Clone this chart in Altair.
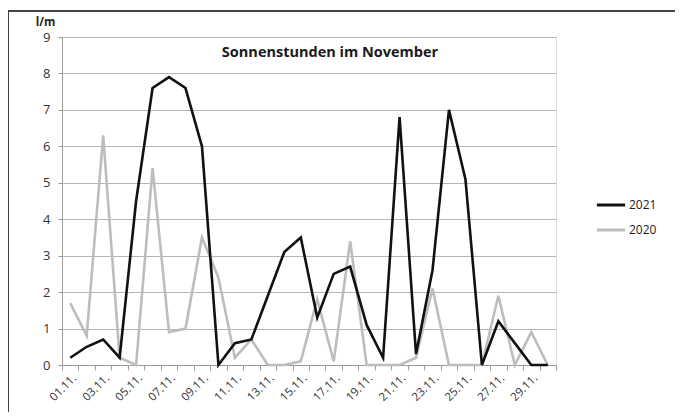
import altair as alt
import pandas as pd

days = list(range(1, 31))
sun_2021 = [0.2, 0.5, 0.7, 0.2, 4.5, 7.6, 7.9, 7.6, 6.0, 0.0,
            0.6, 0.7, 1.9, 3.1, 3.5, 1.3, 2.5, 2.7, 1.1, 0.2,
            6.8, 0.3, 2.6, 7.0, 5.1, 0.0, 1.2, 0.6, 0.0, 0.0]
sun_2020 = [1.7, 0.8, 6.3, 0.2, 0.0, 5.4, 0.9, 1.0, 3.5, 2.4,
            0.2, 0.7, 0.0, 0.0, 0.1, 1.8, 0.1, 3.4, 0.0, 0.0,
            0.0, 0.2, 2.1, 0.0, 0.0, 0.0, 1.9, 0.0, 0.9, 0.0]
series = ["2021", "2020"]
colors = ["#111111", "#bdbdbd"]
y_ticks = list(range(0, 10))
title_text = "Sonnenstunden im November"
y_unit = "l/m"

rows = []
for d, a, b in zip(days, sun_2021, sun_2020):
    rows.append({"Tag": d, "Jahr": "2021", "Stunden": a})
    rows.append({"Tag": d, "Jahr": "2020", "Stunden": b})
df = pd.DataFrame(rows)

FONT = "Open Sans"
W, H = 494, 328
step = W / 30.0

boundaries = [i + 0.5 for i in range(0, 31)]
label_expr = ("datum.value < 30 && (datum.value + 0.5) % 2 == 1 ? "
              "((datum.value + 0.5) < 10 ? '0' : '') + (datum.value + 0.5) + '.11.' : ''")

x = alt.X("Tag:Q",
          scale=alt.Scale(domain=[0.5, 30.5], nice=False, zero=False),
          axis=alt.Axis(values=boundaries, labelExpr=label_expr, labelOffset=step / 2,
                        labelAngle=-45, labelAlign="right", labelBaseline="top",
                        labelOverlap=False, labelFont=FONT, labelFontSize=11.5,
                        labelColor="#333333", labelPadding=2,
                        tickSize=5, tickColor="#9a9a9a", domainColor="#9a9a9a",
                        grid=False, title=None))
y = alt.Y("Stunden:Q",
          scale=alt.Scale(domain=[0, 9], nice=False),
          axis=alt.Axis(values=y_ticks, grid=True, gridColor="#b5b5b5", gridWidth=1.2,
                        tickSize=4, tickColor="#9a9a9a", domainColor="#9a9a9a",
                        labelFont=FONT, labelFontSize=13, labelColor="#333333",
                        labelPadding=8,
                        title=y_unit, titleAngle=0, titleX=-17, titleY=-15,
                        titleFont=FONT, titleFontSize=11.5, titleFontWeight="bold",
                        titleColor="#222222", titleAlign="center", titleBaseline="middle"))
color = alt.Color("Jahr:N",
                  scale=alt.Scale(domain=series, range=colors),
                  legend=alt.Legend(title=None, orient="none", legendX=533, legendY=152,
                                    symbolType="stroke", symbolSize=800, symbolStrokeWidth=3,
                                    labelFont=FONT, labelFontSize=12, labelColor="#222222",
                                    rowPadding=3, labelOffset=2))

gray = alt.Chart(df).transform_filter(alt.datum.Jahr == "2020").mark_line(strokeWidth=2.6).encode(x=x, y=y, color=color)
black = alt.Chart(df).transform_filter(alt.datum.Jahr == "2021").mark_line(strokeWidth=2.6).encode(x=x, y=y, color=color)

title = alt.Chart(pd.DataFrame({"t": [title_text]})).mark_text(
    font=FONT, fontSize=14.5, fontWeight="bold", color="#1a1a1a", align="center", baseline="middle"
).encode(x=alt.value(268), y=alt.value(16), text="t:N")

border_v = alt.Chart(pd.DataFrame({"a": [0]})).mark_rule(color="#444444", strokeWidth=2).encode(
    x=alt.value(-54), y=alt.value(-26), y2=alt.value(H + 60))
border_h = alt.Chart(pd.DataFrame({"a": [0]})).mark_rule(color="#444444", strokeWidth=2).encode(
    x=alt.value(-54), x2=alt.value(W + 140), y=alt.value(-26))

chart = alt.layer(gray, black, title, border_v, border_h).properties(
    width=W, height=H,
    autosize=alt.AutoSizeParams(type="none"),
    padding={"left": 54, "top": 29, "right": 119, "bottom": 47},
).configure_view(stroke=None).configure(background="white")

chart.save("out.html", embed_options={"renderer": "svg", "actions": False})
